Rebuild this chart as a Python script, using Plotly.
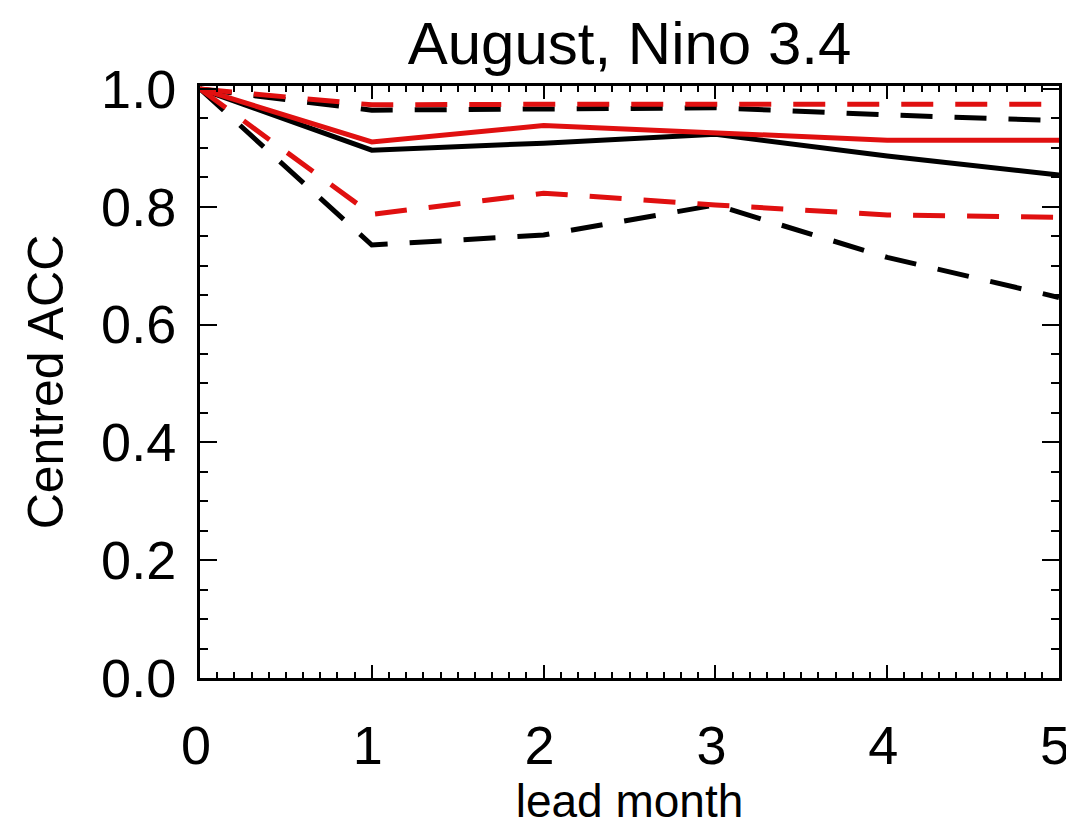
import plotly.graph_objects as go

lead_month = [0, 1, 2, 3, 4, 5]

black_solid = [1.0, 0.896, 0.908, 0.923, 0.886, 0.854]
red_solid = [1.0, 0.910, 0.938, 0.925, 0.913, 0.913]
black_dash_upper = [1.0, 0.964, 0.966, 0.968, 0.956, 0.946]
red_dash_upper = [1.0, 0.973, 0.974, 0.974, 0.974, 0.974]
black_dash_lower = [1.0, 0.735, 0.752, 0.803, 0.714, 0.646]
red_dash_lower = [1.0, 0.787, 0.823, 0.803, 0.786, 0.782]

title_text = "August, Nino 3.4"
x_title = "lead month"
y_title = "Centred ACC"
y_ticks = [0.0, 0.2, 0.4, 0.6, 0.8, 1.0]
y_ticklabels = ["0.0", "0.2", "0.4", "0.6", "0.8", "1.0"]
x_ticks = [0, 1, 2, 3, 4, 5]

BLACK = "#000000"
RED = "#e01010"
DASH = "32px,22px"

fig = go.Figure()
series = [
    (black_dash_upper, BLACK, DASH),
    (black_dash_lower, BLACK, DASH),
    (black_solid, BLACK, "solid"),
    (red_dash_upper, RED, DASH),
    (red_dash_lower, RED, DASH),
    (red_solid, RED, "solid"),
]
for ys, col, dash in series:
    fig.add_trace(go.Scatter(x=lead_month, y=ys, mode="lines",
                             line=dict(color=col, width=5, dash=dash),
                             showlegend=False, hoverinfo="skip"))

font_family = "Liberation Sans, Arial, sans-serif"
fig.update_layout(
    width=1074, height=825,
    margin=dict(l=192, r=23, t=78, b=155),
    paper_bgcolor="white", plot_bgcolor="white",
    font=dict(family=font_family, color="black"),
    title=dict(text=title_text, x=0.5, xanchor="center", xref="paper",
               y=0.958, yanchor="middle", font=dict(size=60, color="black")),
    showlegend=False,
)
fig.update_xaxes(
    range=[0, 5], tickvals=x_ticks, ticktext=[str(v) for v in x_ticks],
    ticks="inside", ticklen=13, tickwidth=2, tickcolor="black",
    minor=dict(dtick=0.1, ticks="inside", ticklen=6, tickwidth=2, tickcolor="black"),
    showline=True, linecolor="black", linewidth=3, mirror="allticks",
    showgrid=False, zeroline=False, automargin=False,
    ticklabeloverflow="allow", ticklabelshift=-4,
    tickfont=dict(size=54), ticklabelstandoff=18,
    title=dict(text=x_title, font=dict(size=46), standoff=2),
)
fig.update_yaxes(
    range=[0, 1.005], tickvals=y_ticks, ticktext=y_ticklabels,
    ticks="inside", ticklen=17, tickwidth=2, tickcolor="black",
    minor=dict(dtick=0.05, ticks="inside", ticklen=8, tickwidth=2, tickcolor="black"),
    showline=True, linecolor="black", linewidth=3, mirror="allticks",
    showgrid=False, zeroline=False, automargin=False,
    ticklabeloverflow="allow",
    tickfont=dict(size=54), ticklabelstandoff=10,
    title=dict(text=y_title, font=dict(size=50), standoff=22),
)

fig.write_html("out.html")
